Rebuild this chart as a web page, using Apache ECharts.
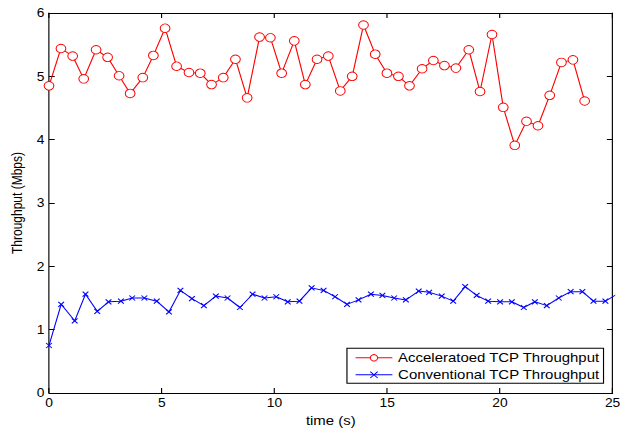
<!DOCTYPE html>
<html>
<head>
<meta charset="utf-8">
<script src="https://cdn.jsdelivr.net/npm/echarts@6/dist/echarts.min.js"></script>
<style>
  html, body { margin: 0; padding: 0; background: #fff; overflow: hidden; }
  /* the figure is drawn on a narrower canvas and widened, like a resized plot window */
  #chart { width: 544.35px; height: 428px; transform: scaleX(1.15); transform-origin: 0 0; }
</style>
</head>
<body>
<div id="chart"></div>
<script>
// Accelerated TCP: sample times (s) and throughput (Mbps)
const accelTime = [0, 0.53, 1.05, 1.54, 2.09, 2.60, 3.11, 3.60, 4.16, 4.63,
  5.15, 5.66, 6.21, 6.71, 7.21, 7.73, 8.27, 8.79, 9.34, 9.82,
  10.32, 10.88, 11.37, 11.89, 12.39, 12.92, 13.45, 13.95, 14.47, 14.99,
  15.50, 15.99, 16.55, 17.05, 17.54, 18.05, 18.62, 19.12, 19.65, 20.15,
  20.66, 21.18, 21.69, 22.21, 22.73, 23.24, 23.76];
const accelThroughput = [4.85, 5.44, 5.32, 4.96, 5.42, 5.30, 5.01, 4.73, 4.98, 5.33,
  5.76, 5.16, 5.06, 5.05, 4.87, 4.98, 5.27, 4.66, 5.62, 5.61,
  5.05, 5.56, 4.87, 5.27, 5.32, 4.77, 5.00, 5.81, 5.35, 5.05,
  5.00, 4.85, 5.12, 5.25, 5.17, 5.13, 5.42, 4.76, 5.66, 4.51,
  3.91, 4.29, 4.22, 4.70, 5.22, 5.26, 4.61];

// Conventional TCP: sample times (s) and throughput (Mbps)
const convTime = [0, 0.54, 1.14, 1.62, 2.14, 2.64, 3.19, 3.69, 4.23, 4.78,
  5.32, 5.83, 6.34, 6.87, 7.40, 7.92, 8.47, 9.03, 9.56, 10.08,
  10.59, 11.11, 11.65, 12.18, 12.69, 13.22, 13.73, 14.28, 14.79, 15.31,
  15.83, 16.40, 16.86, 17.42, 17.93, 18.46, 18.97, 19.48, 20.01, 20.53,
  21.06, 21.55, 22.08, 22.61, 23.14, 23.66, 24.15, 24.68, 25.19];
const convThroughput = [0.75, 1.40, 1.14, 1.56, 1.29, 1.44, 1.45, 1.50, 1.50, 1.45,
  1.28, 1.62, 1.49, 1.38, 1.53, 1.50, 1.35, 1.56, 1.50, 1.52,
  1.44, 1.45, 1.66, 1.62, 1.52, 1.40, 1.47, 1.56, 1.54, 1.50,
  1.47, 1.61, 1.59, 1.53, 1.45, 1.68, 1.54, 1.45, 1.44, 1.44,
  1.35, 1.44, 1.38, 1.50, 1.60, 1.60, 1.45, 1.45, 1.56];

const xTicks = { min: 0, max: 25, interval: 5 };
const yTicks = { min: 0, max: 6, interval: 1 };

const FONT = '"Liberation Sans", Arial, Helvetica, sans-serif';
const crossPath = 'path://M0,0L10,10M10,0L0,10';

function pairs(xs, ys) { return xs.map((x, i) => [x, ys[i]]); }

const frameLine = { show: true, onZero: false, lineStyle: { color: '#000', width: 1 } };
const tick = { show: true, inside: true, length: 5, lineStyle: { color: '#000', width: 1 } };

const chart = echarts.init(document.getElementById('chart'), null, { renderer: 'svg' });
chart.setOption({
  animation: false,
  backgroundColor: '#fff',
  grid: { left: 42.6, right: 11.3, top: 13, bottom: 35, containLabel: false, outerBoundsMode: 'none' },
  xAxis: [
    {
      type: 'value', position: 'bottom', ...xTicks,
      name: 'time (s)', nameLocation: 'middle', nameGap: 19,
      nameTextStyle: { fontFamily: FONT, fontSize: 13, color: '#000' },
      axisLine: frameLine, axisTick: tick, splitLine: { show: false },
      axisLabel: { fontFamily: FONT, fontSize: 12, color: '#000', margin: 4 }
    },
    {
      type: 'value', position: 'top', ...xTicks,
      axisLine: frameLine, axisTick: tick, splitLine: { show: false },
      axisLabel: { show: false }
    }
  ],
  yAxis: [
    {
      type: 'value', position: 'left', ...yTicks,
      name: 'Throughput (Mbps)', nameLocation: 'middle', nameGap: 20,
      nameTextStyle: { fontFamily: FONT, fontSize: 12, color: '#000' },
      axisLine: frameLine, axisTick: tick, splitLine: { show: false },
      axisLabel: { fontFamily: FONT, fontSize: 12, color: '#000', margin: 4 }
    },
    {
      type: 'value', position: 'right', ...yTicks,
      axisLine: frameLine, axisTick: tick, splitLine: { show: false },
      axisLabel: { show: false }
    }
  ],
  legend: {
    orient: 'vertical',
    left: 301.7, top: 348.3,
    padding: [3, 3, 2, 7],
    itemGap: 4,
    itemWidth: 32, itemHeight: 8,
    backgroundColor: '#fff', borderColor: '#000', borderWidth: 1, borderRadius: 0,
    lineStyle: { width: 1 },
    itemStyle: { borderWidth: 0.9 },
    textStyle: { fontFamily: FONT, fontSize: 13, color: '#000' },
    data: ['Acceleratoed TCP Throughput', 'Conventional TCP Throughput']
  },
  series: [
    {
      name: 'Acceleratoed TCP Throughput',
      type: 'line', xAxisIndex: 0, yAxisIndex: 0,
      data: pairs(accelTime, accelThroughput),
      // hollow circle markers with a thin outline
      symbol: 'circle', symbolSize: 8.5, showAllSymbol: true,
      color: '#ff0000',
      lineStyle: { color: '#ff0000', width: 1 },
      itemStyle: { color: '#ffffff', borderColor: '#ff0000', borderWidth: 0.9 }
    },
    {
      name: 'Conventional TCP Throughput',
      type: 'line', xAxisIndex: 0, yAxisIndex: 0,
      data: pairs(convTime, convThroughput),
      symbol: crossPath, symbolSize: 5, showAllSymbol: true,
      color: '#0000ff',
      lineStyle: { color: '#0000ff', width: 1 },
      itemStyle: { color: '#0000ff', borderColor: '#0000ff', borderWidth: 1 }
    }
  ]
});
</script>
</body>
</html>
